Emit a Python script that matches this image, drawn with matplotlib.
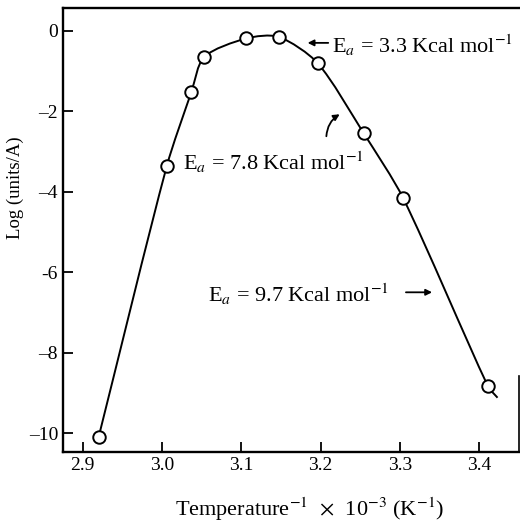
import numpy as np
import matplotlib
matplotlib.use("Agg")
import matplotlib.pyplot as plt
from matplotlib.path import Path
from matplotlib.patches import PathPatch, FancyArrowPatch

plt.rcParams['font.family'] = ['Liberation Serif', 'DejaVu Serif']
plt.rcParams['mathtext.fontset'] = 'stix'

# inverse temperature (x 10^-3 K^-1) and log activity
temp_inv = [2.920, 3.006, 3.037, 3.053, 3.106, 3.147, 3.196, 3.254, 3.304, 3.411]
log_act = [-10.1, -3.36, -1.52, -0.65, -0.19, -0.15, -0.80, -2.54, -4.16, -8.84]
# the drawn curve runs a little past the last point
tail_x = 3.423
tail_y = -9.12

xticks = [2.9, 3.0, 3.1, 3.2, 3.3, 3.4]
yticks = [0, -2, -4, -6, -8, -10]


def smooth_path(xs, ys, sx, sy, k=0.27):
    # Catmull-Rom style bezier through the points, done in a scaled space
    P = np.column_stack([np.asarray(xs) * sx, np.asarray(ys) * sy])
    n = len(P)
    d = np.linalg.norm(np.diff(P, axis=0), axis=1)
    m = np.zeros_like(P)
    m[0] = (P[1] - P[0]) / d[0]
    m[-1] = (P[-1] - P[-2]) / d[-1]
    for i in range(1, n - 1):
        m[i] = (P[i + 1] - P[i - 1]) / (d[i - 1] + d[i])
    verts = [P[0]]
    codes = [Path.MOVETO]
    for i in range(n - 1):
        verts += [P[i] + m[i] * d[i] * k, P[i + 1] - m[i + 1] * d[i] * k, P[i + 1]]
        codes += [Path.CURVE4] * 3
    verts = np.array(verts)
    verts[:, 0] /= sx
    verts[:, 1] /= sy
    return Path(verts, codes)


fig = plt.figure(figsize=(5.2, 5.25), dpi=100)
ax = fig.add_axes([0.121, 0.139, 0.877, 0.846])

cx = temp_inv + [tail_x]
cy = log_act + [tail_y]
ax.add_patch(PathPatch(smooth_path(cx, cy, 793, 40.15), facecolor='none',
                       edgecolor='black', lw=1.4, zorder=2))
ax.plot(temp_inv, log_act, 'o', mfc='white', mec='black', mew=1.4, ms=9, zorder=3)

ax.set_xlim(2.875, 3.45)
ax.set_ylim(-10.47, 0.57)
ax.set_xticks(xticks)
ax.set_xticklabels(['%.1f' % v for v in xticks])
ax.set_yticks(yticks)
ax.set_yticklabels(['0', '\u20132', '\u20134', '-6', '\u20138', '\u201310'])
ax.tick_params(direction='in', length=7, width=1.3, labelsize=14)

for s in ['left', 'bottom', 'top']:
    ax.spines[s].set_linewidth(1.7)
ax.spines['right'].set_linewidth(1.2)
ax.spines['right'].set_bounds(-10.47, -8.57)

ax.set_ylabel('Log (units/A)', fontsize=13.5)
ax.yaxis.set_label_coords(-0.086, 0.595)
ax.set_xlabel(r'Temperature$^{-1}$  $\times$  10$^{-3}$ (K$^{-1}$)', fontsize=16)
ax.xaxis.set_label_coords(0.54, -0.098)

# activation energy labels
ax.text(3.214, -0.36, r'E$_a$ = 3.3 Kcal mol$^{-1}$', fontsize=16, va='center', ha='left')
ax.annotate('', xy=(3.180, -0.30), xytext=(3.213, -0.30),
            arrowprops=dict(arrowstyle='-|>', color='black', lw=1.3, mutation_scale=9))

ax.text(3.026, -3.27, r'E$_a$ = 7.8 Kcal mol$^{-1}$', fontsize=16, va='center', ha='left')
ax.add_patch(FancyArrowPatch((3.207, -2.69), (3.227, -2.04),
                             connectionstyle='arc3,rad=-0.3', arrowstyle='-|>',
                             mutation_scale=9, color='black', lw=1.3))

ax.text(3.058, -6.54, r'E$_a$ = 9.7 Kcal mol$^{-1}$', fontsize=16, va='center', ha='left')
ax.annotate('', xy=(3.344, -6.50), xytext=(3.304, -6.50),
            arrowprops=dict(arrowstyle='-|>', color='black', lw=1.3, mutation_scale=9))

fig.savefig('out.png', dpi=100)
